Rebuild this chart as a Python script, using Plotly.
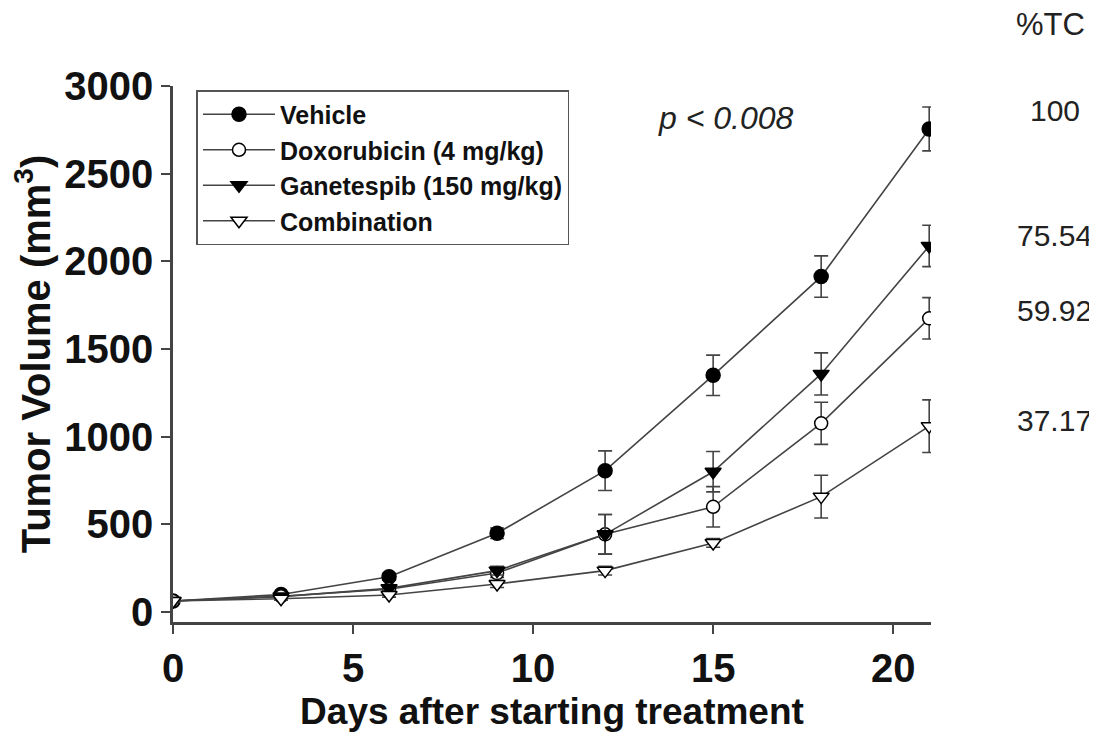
import plotly.graph_objects as go

days = [0, 3, 6, 9, 12, 15, 18, 21]

series_names = ["Vehicle", "Doxorubicin (4 mg/kg)", "Ganetespib (150 mg/kg)", "Combination"]

vehicle = [63, 100, 201, 449, 806, 1350, 1913, 2755]
vehicle_err = [5, 10, 20, 30, 113, 115, 118, 125]

doxorubicin = [63, 90, 130, 222, 443, 600, 1076, 1675]
doxorubicin_err = [5, 10, 15, 25, 113, 115, 120, 118]

ganetespib = [63, 88, 135, 236, 443, 800, 1358, 2088]
ganetespib_err = [5, 10, 15, 25, 113, 115, 120, 118]

combination = [63, 76, 97, 160, 236, 394, 658, 1060]
combination_err = [5, 8, 12, 20, 25, 25, 122, 150]

tc_labels = ["100", "59.92", "75.54", "37.17"]
tc_header = "%TC"
p_text = "p < 0.008"

x_ticks = [0, 5, 10, 15, 20]
y_ticks = [0, 500, 1000, 1500, 2000, 2500, 3000]

FONT = "Liberation Sans, Arial, sans-serif"
LINE = "#444444"

styles = [
    dict(symbol="circle", color="black", size=14),
    dict(symbol="circle", color="white", size=13),
    dict(symbol="triangle-down", color="black", size=14),
    dict(symbol="triangle-down", color="white", size=14),
]
values = [vehicle, doxorubicin, ganetespib, combination]
errors = [vehicle_err, doxorubicin_err, ganetespib_err, combination_err]

fig = go.Figure()
for name, vals, errs, st in zip(series_names, values, errors, styles):
    fig.add_trace(go.Scatter(
        x=days, y=vals, name=name, mode="lines+markers",
        line=dict(color=LINE, width=1.6),
        marker=dict(symbol=st["symbol"], size=st["size"], color=st["color"],
                    line=dict(color="black", width=1.5)),
        error_y=dict(type="data", array=errs, visible=True, color=LINE,
                     thickness=1.6, width=7),
    ))

# %TC annotations placed to the right of each series end
tc_offsets = [108, 47, 62, 35]
for lab, vals, off in zip(tc_labels, values, tc_offsets):
    fig.add_annotation(x=1.163, xref="paper", y=vals[-1] + off, yref="y",
                       text=lab, showarrow=False, xanchor="center", yanchor="middle",
                       font=dict(family=FONT, size=30, color="#222"))
fig.add_annotation(x=1.157, xref="paper", y=1.114, yref="paper", text=tc_header,
                   showarrow=False, xanchor="center", yanchor="middle",
                   font=dict(family=FONT, size=31, color="#222"))
fig.add_annotation(x=0.730, xref="paper", y=0.94, yref="paper",
                   text="<i>" + p_text + "</i>", showarrow=False,
                   xanchor="center", yanchor="middle",
                   font=dict(family=FONT, size=32, color="#222"))

fig.update_layout(
    width=1089, height=729,
    margin=dict(l=165, r=166, t=78, b=115),
    plot_bgcolor="white", paper_bgcolor="white",
    showlegend=True,
    legend=dict(x=0.031, y=0.9925, xanchor="left", yanchor="top",
                bordercolor="#555", borderwidth=1.5, bgcolor="white",
                font=dict(family=FONT, size=25, color="#111", weight="bold"),
                tracegroupgap=0, itemwidth=72),
    xaxis=dict(range=[0, 21.05], tickvals=x_ticks, showline=True,
               linecolor=LINE, linewidth=2.5, ticks="outside", ticklen=9,
               tickwidth=2, tickcolor=LINE, showgrid=False, zeroline=False,
               tickfont=dict(family=FONT, size=40, color="#111", weight="bold"),
               title=dict(text="Days after starting treatment", standoff=10,
                          font=dict(family=FONT, size=37, color="#111", weight="bold"))),
    yaxis=dict(range=[-57, 3000], tickvals=y_ticks, showline=True,
               linecolor=LINE, linewidth=2.5, ticks="outside", ticklen=9,
               tickwidth=2, tickcolor=LINE, showgrid=False, zeroline=False,
               tickfont=dict(family=FONT, size=40, color="#111", weight="bold"),
               title=dict(text="Tumor Volume (mm<sup>3</sup>)", standoff=4,
                          font=dict(family=FONT, size=40, color="#111", weight="bold"))),
)

fig.write_html("out.html")
